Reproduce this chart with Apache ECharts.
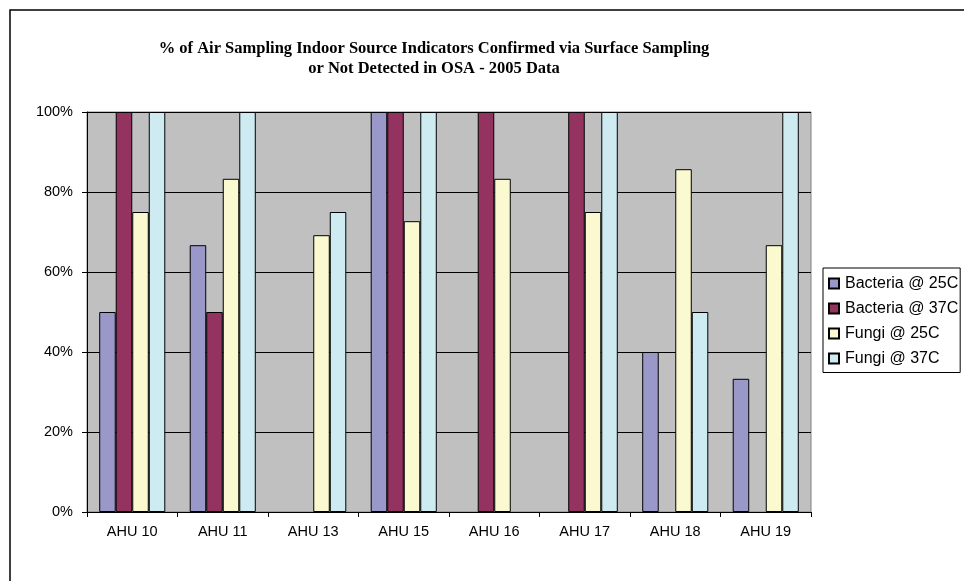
<!DOCTYPE html>
<html>
<head>
<meta charset="utf-8">
<script src="https://cdn.jsdelivr.net/npm/echarts@6/dist/echarts.min.js"></script>
<style>html,body{margin:0;padding:0;background:#fff;}#c{width:964px;height:581px;}</style>
</head>
<body>
<div id="c"></div>
<script>
var categories = ['AHU 10', 'AHU 11', 'AHU 13', 'AHU 15', 'AHU 16', 'AHU 17', 'AHU 18', 'AHU 19'];
var seriesNames = ['Bacteria @ 25C', 'Bacteria @ 37C', 'Fungi @ 25C', 'Fungi @ 37C'];
var bacteria25 = [50, 66.7, 0, 100, 0, 0, 40, 33.3];
var bacteria37 = [100, 50, 0, 100, 100, 100, 0, 0];
var fungi25 = [75, 83.3, 69.2, 72.7, 83.3, 75, 85.7, 66.7];
var fungi37 = [100, 100, 75, 100, 0, 100, 50, 100];
var yTicks = [0, 20, 40, 60, 80, 100];
var titleLines = ['% of Air Sampling Indoor Source Indicators Confirmed via Surface Sampling', 'or Not Detected in OSA - 2005 Data'];

var colors = ['#9A97C9', '#943360', '#FBF9CF', '#CDEBF0'];
var values = [bacteria25, bacteria37, fungi25, fungi37];

var chart = echarts.init(document.getElementById('c'), null, {renderer: 'canvas'});
var series = seriesNames.map(function (n, i) {
  return {
    name: n,
    type: 'bar',
    data: values[i].map(function (v) { return v === 0 ? null : v; }),
    barGap: '0%',
    barCategoryGap: '27%',
    itemStyle: {color: colors[i], borderColor: '#000', borderWidth: 1},
    emphasis: {disabled: true}
  };
});

chart.setOption({
  animation: false,
  backgroundColor: '#fff',
  graphic: [
    {type: 'rect', shape: {x: 10, y: 10, width: 1100, height: 1100}, style: {fill: 'none', stroke: '#000', lineWidth: 1.5}, silent: true}
  ],
  title: {
    text: titleLines.join('\n'),
    left: 429,
    top: 34,
    textAlign: 'center',
    textStyle: {fontFamily: 'Liberation Serif', fontWeight: 'bold', fontSize: 16.5, color: '#000', lineHeight: 20}
  },
  legend: {
    orient: 'vertical',
    left: 823,
    top: 268,
    data: seriesNames,
    itemWidth: 10,
    itemHeight: 10,
    itemGap: 9,
    padding: [7.5, 2, 6, 5],
    borderColor: '#000',
    borderWidth: 1,
    backgroundColor: '#fff',
    icon: 'rect',
    textStyle: {fontFamily: 'Liberation Sans', fontSize: 16, color: '#000', padding: [0, 0, 0, 1]},
    selectedMode: false
  },
  grid: {
    left: 87, top: 112, right: 153, bottom: 69,
    show: true, backgroundColor: '#C0C0C0', borderColor: '#808080', borderWidth: 1,
    containLabel: false
  },
  xAxis: {
    type: 'category',
    data: categories,
    axisLine: {lineStyle: {color: '#000', width: 1}},
    axisTick: {show: true, length: 5, lineStyle: {color: '#000'}},
    axisLabel: {fontFamily: 'Liberation Sans', fontSize: 14.5, color: '#000', margin: 12}
  },
  yAxis: {
    type: 'value',
    min: 0, max: 100, interval: 20,
    axisLine: {show: true, lineStyle: {color: '#000', width: 1}},
    axisTick: {show: true, length: 5, lineStyle: {color: '#000'}},
    splitLine: {lineStyle: {color: '#000', width: 1}},
    axisLabel: {fontFamily: 'Liberation Sans', fontSize: 14.5, color: '#000', margin: 14,
      formatter: function (v) { return yTicks.indexOf(v) >= 0 ? v + '%' : ''; }}
  },
  series: series
});
</script>
</body>
</html>
